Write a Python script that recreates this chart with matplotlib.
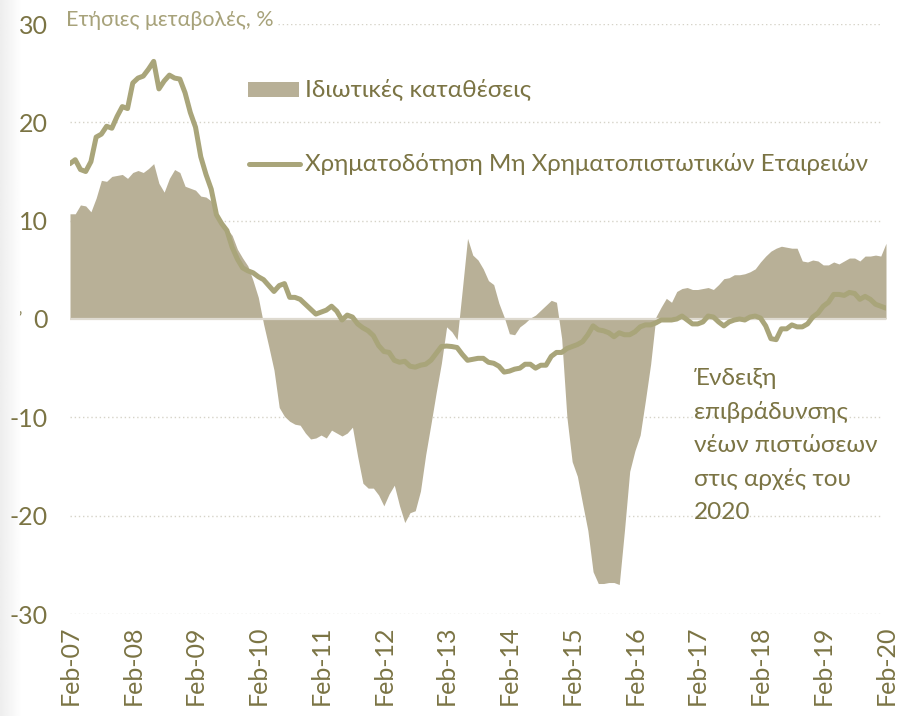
import matplotlib
matplotlib.use("Agg")
import matplotlib.pyplot as plt
import numpy as np

plt.rcParams['font.family'] = ['Lato', 'DejaVu Sans']

# Annual % changes, monthly from Feb-2007 to Feb-2020
deposits = [
    10.7, 10.7, 11.6, 11.5, 10.9, 12.3, 14.1, 14.0, 14.5, 14.6, 14.7, 14.3,
    14.9, 15.1, 14.9, 15.3, 15.8, 13.8, 12.9, 14.3, 15.2, 14.9, 13.5, 13.3,
    13.1, 12.5, 12.4, 12.0, 10.8, 9.7, 9.2, 8.5, 7.1, 6.2, 5.4, 3.9,
    2.2, -0.5, -2.8, -5.2, -9.0, -9.9, -10.4, -10.7, -10.8, -11.6, -12.2, -12.1,
    -11.8, -12.1, -11.3, -11.6, -11.9, -11.6, -11.0, -14.0, -16.7, -17.2, -17.2, -17.9,
    -19.0, -17.8, -16.9, -19.0, -20.7, -19.7, -19.5, -17.5, -13.8, -10.7, -7.5, -4.5,
    -0.8, -1.3, -2.1, 3.0, 8.2, 6.5, 6.0, 5.1, 3.9, 3.5, 1.6, 0.2,
    -1.5, -1.6, -0.8, -0.4, 0.1, 0.4, 0.9, 1.4, 1.9, 1.7, -2.0, -10.0,
    -14.5, -16.0, -18.8, -21.5, -25.7, -26.9, -26.9, -26.8, -26.8, -27.0, -21.5, -15.5,
    -13.4, -11.8, -8.3, -4.6, 0.2, 1.2, 2.1, 1.7, 2.8, 3.1, 3.2, 3.0,
    3.0, 3.1, 3.2, 3.0, 3.5, 4.1, 4.2, 4.5, 4.5, 4.6, 4.8, 5.1,
    5.8, 6.4, 6.9, 7.2, 7.4, 7.3, 7.2, 7.2, 5.9, 5.8, 6.0, 5.9,
    5.5, 5.5, 5.8, 5.6, 5.9, 6.2, 6.2, 5.9, 6.4, 6.4, 6.5, 6.4,
    7.7,
]

nfc_loans = [
    15.8, 16.2, 15.2, 15.0, 16.0, 18.5, 18.8, 19.6, 19.4, 20.6, 21.6, 21.4,
    24.0, 24.5, 24.7, 25.4, 26.2, 23.4, 24.2, 24.8, 24.5, 24.4, 23.0, 21.0,
    19.5, 16.5, 14.7, 13.2, 10.6, 9.7, 9.0, 7.3, 6.1, 5.2, 4.9, 4.7,
    4.3, 4.0, 3.4, 2.8, 3.4, 3.6, 2.2, 2.2, 2.0, 1.5, 1.0, 0.5,
    0.7, 0.9, 1.3, 0.8, -0.1, 0.4, 0.2, -0.5, -0.9, -1.2, -1.7, -2.7,
    -3.3, -3.4, -4.2, -4.4, -4.3, -4.8, -4.9, -4.7, -4.6, -4.2, -3.5, -2.8,
    -2.75, -2.8, -2.9, -3.6, -4.2, -4.1, -4.0, -4.0, -4.4, -4.5, -4.8, -5.4,
    -5.3, -5.1, -5.0, -4.6, -4.6, -5.0, -4.7, -4.7, -3.8, -3.4, -3.4, -3.0,
    -2.8, -2.6, -2.3, -1.6, -0.7, -1.1, -1.2, -1.4, -1.8, -1.4, -1.6, -1.6,
    -1.3, -0.8, -0.6, -0.6, -0.4, -0.1, -0.1, -0.1, 0.0, 0.3, -0.1, -0.5,
    -0.5, -0.3, 0.3, 0.2, -0.3, -0.7, -0.3, -0.1, 0.0, -0.1, 0.2, 0.3,
    0.1, -0.7, -2.0, -2.1, -1.0, -1.0, -0.6, -0.8, -0.8, -0.5, 0.2, 0.6,
    1.3, 1.7, 2.5, 2.5, 2.4, 2.7, 2.6, 2.0, 2.3, 2.0, 1.5, 1.3,
    1.1,
]

tick_labels = ["Feb-07", "Feb-08", "Feb-09", "Feb-10", "Feb-11", "Feb-12", "Feb-13",
               "Feb-14", "Feb-15", "Feb-16", "Feb-17", "Feb-18", "Feb-19", "Feb-20"]
y_ticks = [-30, -20, -10, 0, 10, 20, 30]

label_deposits = "Ιδιωτικές καταθέσεις"
label_loans = "Χρηματοδότηση Μη Χρηματοπιστωτικών Εταιρειών"
title_text = "Ετήσιες μεταβολές, %"
note_text = "Ένδειξη\nεπιβράδυνσης\nνέων πιστώσεων\nστις αρχές του\n2020"

AREA = "#b8b097"
LINE = "#a9a57a"
TEXT = "#7b7444"
TITLE = "#a7a27a"
GRID = "#d6d3c8"

W, H = 898, 716
fig = plt.figure(figsize=(W / 100, H / 100), dpi=100)

# faint shading down the left edge
bg = fig.add_axes([0, 0, 1, 1], zorder=-10)
grad = np.linspace(0.93, 1.0, 30)
bg.imshow(np.tile(grad, (2, 1)), cmap="gray", vmin=0, vmax=1,
          extent=[0, 22, 0, H], aspect="auto")
bg.set_xlim(0, W)
bg.set_ylim(0, H)
bg.axis("off")

ax = fig.add_axes([70 / W, (H - 614) / H, (886 - 70) / W, (614 - 24) / H])
ax.patch.set_alpha(0)

x = np.arange(len(deposits))
ax.set_xlim(0, len(deposits) - 1)
ax.set_ylim(-30, 30)

# dotted gridlines (the top one starts after the heading)
for v in y_ticks:
    if v == 0:
        continue
    xmin = 0.255 if v == 30 else 0.0
    ax.axhline(v, xmin=xmin, xmax=0.995, color=GRID, lw=1.0,
               ls=(0, (1, 2)), zorder=0)

ax.fill_between(x, 0, deposits, color=AREA, lw=0, zorder=1,
                label=label_deposits)
ax.axhline(0, color="#dedad0", lw=1.6, zorder=2)
ax.plot(x, nfc_loans, color=LINE, lw=3.6, solid_joinstyle="round",
        solid_capstyle="round", zorder=3, label=label_loans)

for s in ax.spines.values():
    s.set_visible(False)

ax.set_yticks(y_ticks)
ax.set_yticklabels([str(v) for v in y_ticks])
ax.set_xticks(x[::12])
ax.set_xticklabels(tick_labels, rotation=90)
ax.tick_params(axis="both", length=0, labelcolor=TEXT, labelsize=18)
ax.tick_params(axis="y", pad=16)
ax.tick_params(axis="x", pad=8)
ax.text(-0.062, 0.0, "\u2019", transform=ax.get_yaxis_transform(),
        color=TEXT, fontsize=11, ha="center", va="center")

fig.text(66 / W, 1 - 20 / H, title_text, color=TITLE, fontsize=15.5,
         ha="left", va="center")

# legend entries
fig.patches.append(plt.Rectangle((248 / W, 1 - 97 / H), 51 / W, 15 / H,
                                 transform=fig.transFigure, color=AREA,
                                 lw=0))
fig.add_artist(plt.Line2D([249 / W, 300 / W], [1 - 164 / H, 1 - 164 / H],
                          transform=fig.transFigure, color=LINE, lw=3.6,
                          solid_capstyle="round"))
fig.text(305 / W, 1 - 89 / H, label_deposits, color=TEXT, fontsize=17.6,
         ha="left", va="center")
fig.text(305 / W, 1 - 164 / H, label_loans, color=TEXT, fontsize=17.4,
         ha="left", va="center")

fig.text(694 / W, 1 - 368 / H, note_text, color=TEXT, fontsize=17.6,
         ha="left", va="top", linespacing=1.68)

fig.savefig("out.png", dpi=100)
